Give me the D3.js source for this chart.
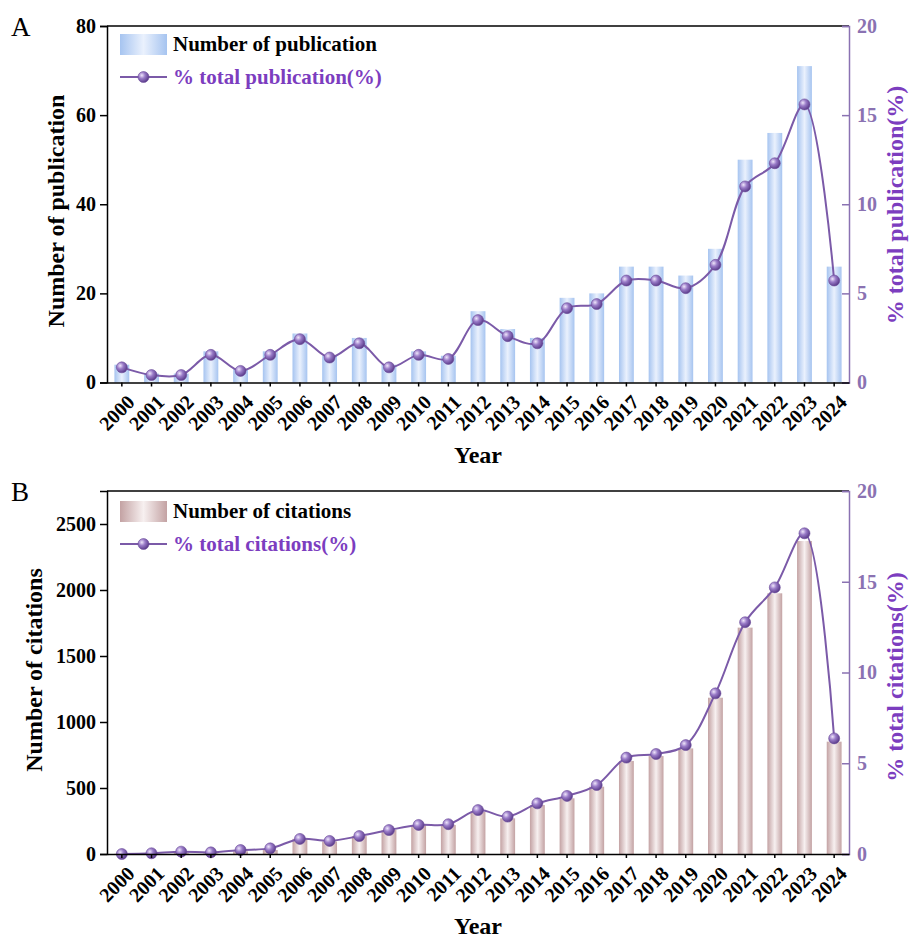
<!DOCTYPE html>
<html><head><meta charset="utf-8">
<script src="https://cdn.jsdelivr.net/npm/d3@7"></script>
<style>
body{margin:0;background:#fff;}
svg{display:block;font-family:"Liberation Serif","Times New Roman",serif;}
</style></head>
<body><svg id="chart" width="909" height="939"></svg>
<script>
const years = ["2000","2001","2002","2003","2004","2005","2006","2007","2008","2009","2010","2011","2012","2013","2014","2015","2016","2017","2018","2019","2020","2021","2022","2023","2024"];
const pubCounts = [4,2,2,7,3,7,11,6,10,4,7,6,16,12,10,19,20,26,26,24,30,50,56,71,26];
const pubPercent = [0.85,0.42,0.42,1.55,0.65,1.55,2.43,1.4,2.2,0.85,1.55,1.32,3.5,2.6,2.2,4.17,4.4,5.72,5.72,5.29,6.6,11.0,12.3,15.6,5.72];
const citCounts = [2,3,8,5,20,30,115,95,136,182,220,220,320,270,371,422,510,705,742,800,1184,1715,1975,2371,851];
const citPercent = [0,0.04,0.13,0.09,0.22,0.31,0.83,0.72,0.99,1.32,1.6,1.64,2.42,2.06,2.79,3.2,3.8,5.31,5.51,6.0,8.85,12.77,14.69,17.67,6.37];
const pubLeftTicks = [0,20,40,60,80];
const citLeftTicks = [0,500,1000,1500,2000,2500];
const pctTicks = [0,5,10,15,20];

const svg = d3.select("#chart");
const defs = svg.append("defs");
function barGrad(id, edge, mid){
  const g = defs.append("linearGradient").attr("id",id).attr("x1","0%").attr("x2","100%").attr("y1","0%").attr("y2","0%");
  g.append("stop").attr("offset","0%").attr("stop-color",edge);
  g.append("stop").attr("offset","50%").attr("stop-color",mid);
  g.append("stop").attr("offset","100%").attr("stop-color",edge);
}
barGrad("gBlue","#a6c4f0","#eaf1fd");
barGrad("gRose","#c3a2a3","#f7f0f0");
const rg = defs.append("radialGradient").attr("id","gBall").attr("cx","35%").attr("cy","35%").attr("r","65%");
rg.append("stop").attr("offset","0%").attr("stop-color","#efe6fb");
rg.append("stop").attr("offset","45%").attr("stop-color","#9a7cc8");
rg.append("stop").attr("offset","100%").attr("stop-color","#5e3f8e");

const FONT = "Liberation Serif, Times New Roman, serif";
const lineColor = "#7b5aa8";
const rightColor = "#8a72b2";
const rightTitleColor = "#7c3dbf";
const left = 107, right = 849;

function panel(o){
  const g = svg.append("g");
  const x = d3.scaleBand().domain(years).range([left,right]).padding(0);
  const yL = d3.scaleLinear().domain(o.leftDomain).range([o.bottom,o.top]);
  const yR = d3.scaleLinear().domain([0,20]).range([o.bottom,o.top]);
  const bw = x.bandwidth()*0.5;
  g.selectAll("rect.bar").data(o.counts).join("rect").attr("class","bar")
    .attr("x",(d,i)=>x(years[i])+x.bandwidth()/2-bw/2)
    .attr("width",bw)
    .attr("y",d=>yL(d)).attr("height",d=>yL(0)-yL(d))
    .attr("fill",`url(#${o.grad})`);
  const line = d3.line().x((d,i)=>x(years[i])+x.bandwidth()/2).y(d=>yR(d)).curve(d3.curveCatmullRom.alpha(0.5));
  g.append("path").datum(o.pct).attr("d",line).attr("fill","none").attr("stroke",lineColor).attr("stroke-width",2);
  g.selectAll("circle.pt").data(o.pct).join("circle").attr("class","pt")
    .attr("cx",(d,i)=>x(years[i])+x.bandwidth()/2).attr("cy",d=>yR(d)).attr("r",5.5)
    .attr("fill","url(#gBall)").attr("stroke","#6a4a98").attr("stroke-width",0.6);
  g.append("line").attr("x1",left).attr("x2",right).attr("y1",o.top).attr("y2",o.top).attr("stroke","#000").attr("stroke-width",1.5);
  const ax = g.append("g").attr("transform",`translate(${left},0)`)
    .call(d3.axisLeft(yL).tickValues(o.leftTicks).tickFormat(d3.format("d")).tickSize(7).tickPadding(4));
  ax.select(".domain").attr("stroke","#000").attr("stroke-width",1.5);
  ax.selectAll(".tick line").attr("stroke","#000").attr("stroke-width",1.5);
  ax.selectAll("text").attr("font-size",20).attr("font-weight","bold").attr("fill","#000").attr("font-family",FONT);
  const ar = g.append("g").attr("transform",`translate(${right},0)`)
    .call(d3.axisRight(yR).tickValues(pctTicks).tickSize(-7).tickPadding(8));
  ar.select(".domain").attr("stroke",rightColor).attr("stroke-width",1.5);
  ar.selectAll(".tick line").attr("stroke",rightColor).attr("stroke-width",1.5);
  ar.selectAll("text").attr("font-size",20).attr("font-weight","bold").attr("fill",rightColor).attr("font-family",FONT);
  const ab = g.append("g").attr("transform",`translate(0,${o.bottom})`)
    .call(d3.axisBottom(x).tickSize(4).tickSizeOuter(0));
  ab.select(".domain").attr("stroke","#000").attr("stroke-width",1.5);
  ab.selectAll(".tick line").attr("stroke","#000").attr("stroke-width",1.5);
  ab.selectAll("text").attr("font-size",20).attr("font-weight","bold").attr("fill","#000")
    .attr("font-family",FONT)
    .attr("text-anchor","end").attr("dy","0.35em").attr("y",0)
    .attr("transform","translate(9,16) rotate(-45)");
  g.append("text").attr("transform",`translate(${o.leftTitleX},${o.leftTitleY}) rotate(-90)`)
    .attr("text-anchor","middle").attr("font-size",24).attr("font-weight","bold").text(o.leftTitle);
  g.append("text").attr("transform",`translate(${o.rightTitleX},${o.rightTitleY}) rotate(-90)`)
    .attr("text-anchor","middle").attr("font-size",24).attr("font-weight","bold").attr("fill",rightTitleColor).text(o.rightTitle);
  g.append("text").attr("x",(left+right)/2).attr("y",o.bottom+80).attr("text-anchor","middle")
    .attr("font-size",24).attr("font-weight","bold").text("Year");
  g.append("text").attr("x",11).attr("y",o.top+10).attr("font-size",27).text(o.letter);
  const lg = g.append("g");
  const t0 = o.top + o.legOff;
  lg.append("rect").attr("x",120).attr("y",t0+8).attr("width",47).attr("height",21).attr("fill",`url(#${o.grad})`);
  lg.append("text").attr("x",173).attr("y",t0+25).attr("font-size",21).attr("font-weight","bold").text(o.barLabel);
  const ly = t0+51;
  lg.append("line").attr("x1",120).attr("x2",167).attr("y1",ly).attr("y2",ly).attr("stroke",lineColor).attr("stroke-width",2);
  lg.append("circle").attr("cx",143.5).attr("cy",ly).attr("r",5.5).attr("fill","url(#gBall)").attr("stroke","#6a4a98").attr("stroke-width",0.6);
  lg.append("text").attr("x",173).attr("y",ly+7).attr("font-size",21).attr("font-weight","bold").attr("fill",rightTitleColor).text(o.lineLabel);
}

panel({top:26,bottom:382.5,leftDomain:[0,80],leftTicks:pubLeftTicks,counts:pubCounts,pct:pubPercent,grad:"gBlue",legOff:0,
  leftTitle:"Number of publication",rightTitle:"% total publication(%)",leftTitleX:64,leftTitleY:211,rightTitleX:903,rightTitleY:205,letter:"A",
  barLabel:"Number of publication",lineLabel:"% total publication(%)"});
panel({top:491,bottom:854,leftDomain:[0,2750],leftTicks:citLeftTicks,counts:citCounts,pct:citPercent,grad:"gRose",legOff:2,
  leftTitle:"Number of citations",rightTitle:"% total citations(%)",leftTitleX:42,leftTitleY:670,rightTitleX:903,rightTitleY:677,letter:"B",
  barLabel:"Number of citations",lineLabel:"% total citations(%)"});
</script></body></html>
